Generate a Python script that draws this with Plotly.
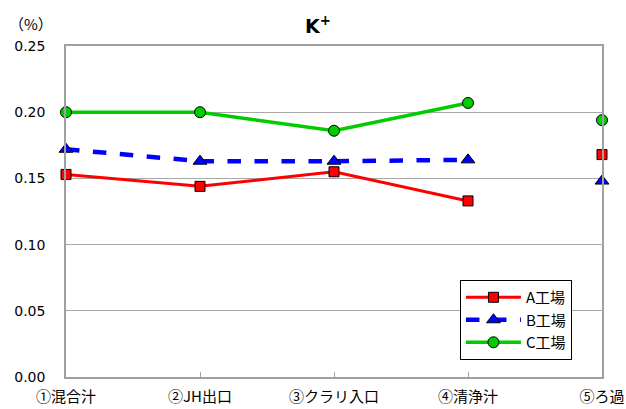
import plotly.graph_objects as go

# Sampling points along the process
categories = ["①混合汁", "②JH出口", "③クラリ入口", "④清浄汁", "⑤ろ過"]
# K+ content (%) per factory
a_factory = [0.153, 0.144, 0.155, 0.133, 0.168]
b_factory = [0.172, 0.163, 0.163, 0.164, 0.148]
c_factory = [0.200, 0.200, 0.186, 0.207, 0.194]
y_ticks = [0.00, 0.05, 0.10, 0.15, 0.20, 0.25]

JP_FONT = "Noto Sans CJK JP, Noto Sans, sans-serif"
NUM_FONT = "DejaVu Sans, Verdana, sans-serif"
x_pos = list(range(len(categories)))

series = [
    ("A工場", a_factory, "#ff0000", "solid", "square", 10, 3),
    ("B工場", b_factory, "#0000ff", "dash", "triangle-up", 12, 4.5),
    ("C工場", c_factory, "#00cc00", "solid", "circle", 11, 3.5),
]

fig = go.Figure()
for name, vals, color, dash, symbol, msize, lw in series:
    marker = dict(symbol=symbol, size=msize, color=color,
                  line=dict(color="black", width=1))
    # connected segment over the first four points
    fig.add_trace(go.Scatter(
        x=x_pos[:4], y=vals[:4], name=name, legendgroup=name,
        mode="lines+markers", line=dict(color=color, width=lw, dash=dash),
        marker=marker, cliponaxis=False))
    # stand-alone point at the last stage
    fig.add_trace(go.Scatter(
        x=x_pos[4:], y=vals[4:], name=name, legendgroup=name,
        mode="markers", marker=marker, showlegend=False, cliponaxis=False))

fig.update_layout(
    width=626, height=409,
    margin=dict(l=66, r=24, t=46, b=32),
    paper_bgcolor="white", plot_bgcolor="white",
    font=dict(family=JP_FONT, size=14, color="black"),
    title=dict(text="<b>K<sup>+</sup></b>", x=0.508, xref="container",
               y=1 - 26 / 409, yref="container", xanchor="center",
               yanchor="middle", font=dict(family=NUM_FONT, size=19)),
    showlegend=True,
    legend=dict(x=0.735, y=0.293, xanchor="left", yanchor="top",
                bgcolor="white", bordercolor="black", borderwidth=1,
                font=dict(family=JP_FONT, size=15), tracegroupgap=0,
                itemwidth=55),
    annotations=[dict(text="（%）", xref="paper", yref="paper",
                      x=-0.066, y=1.068, xanchor="center", yanchor="middle",
                      showarrow=False, font=dict(family=JP_FONT, size=15))],
)

fig.update_xaxes(
    range=[0, 4], tickvals=x_pos, ticktext=categories, automargin=False,
    showline=True, linecolor="#a0a0a0", linewidth=1.5, mirror=True,
    showgrid=False, ticks="inside", ticklen=5, tickcolor="#a0a0a0",
    tickfont=dict(family=JP_FONT, size=15), zeroline=False,
    ticklabelstandoff=5,
)
fig.update_yaxes(
    range=[0, 0.25], tickvals=y_ticks, tickformat=".2f", automargin=False,
    showline=True, linecolor="#a0a0a0", linewidth=1.5, mirror=True,
    showgrid=True, gridcolor="#a8a8a8", gridwidth=1, zeroline=False,
    ticks="", tickfont=dict(family=NUM_FONT, size=14), ticklabelstandoff=16,
)

fig.write_html("out.html")
